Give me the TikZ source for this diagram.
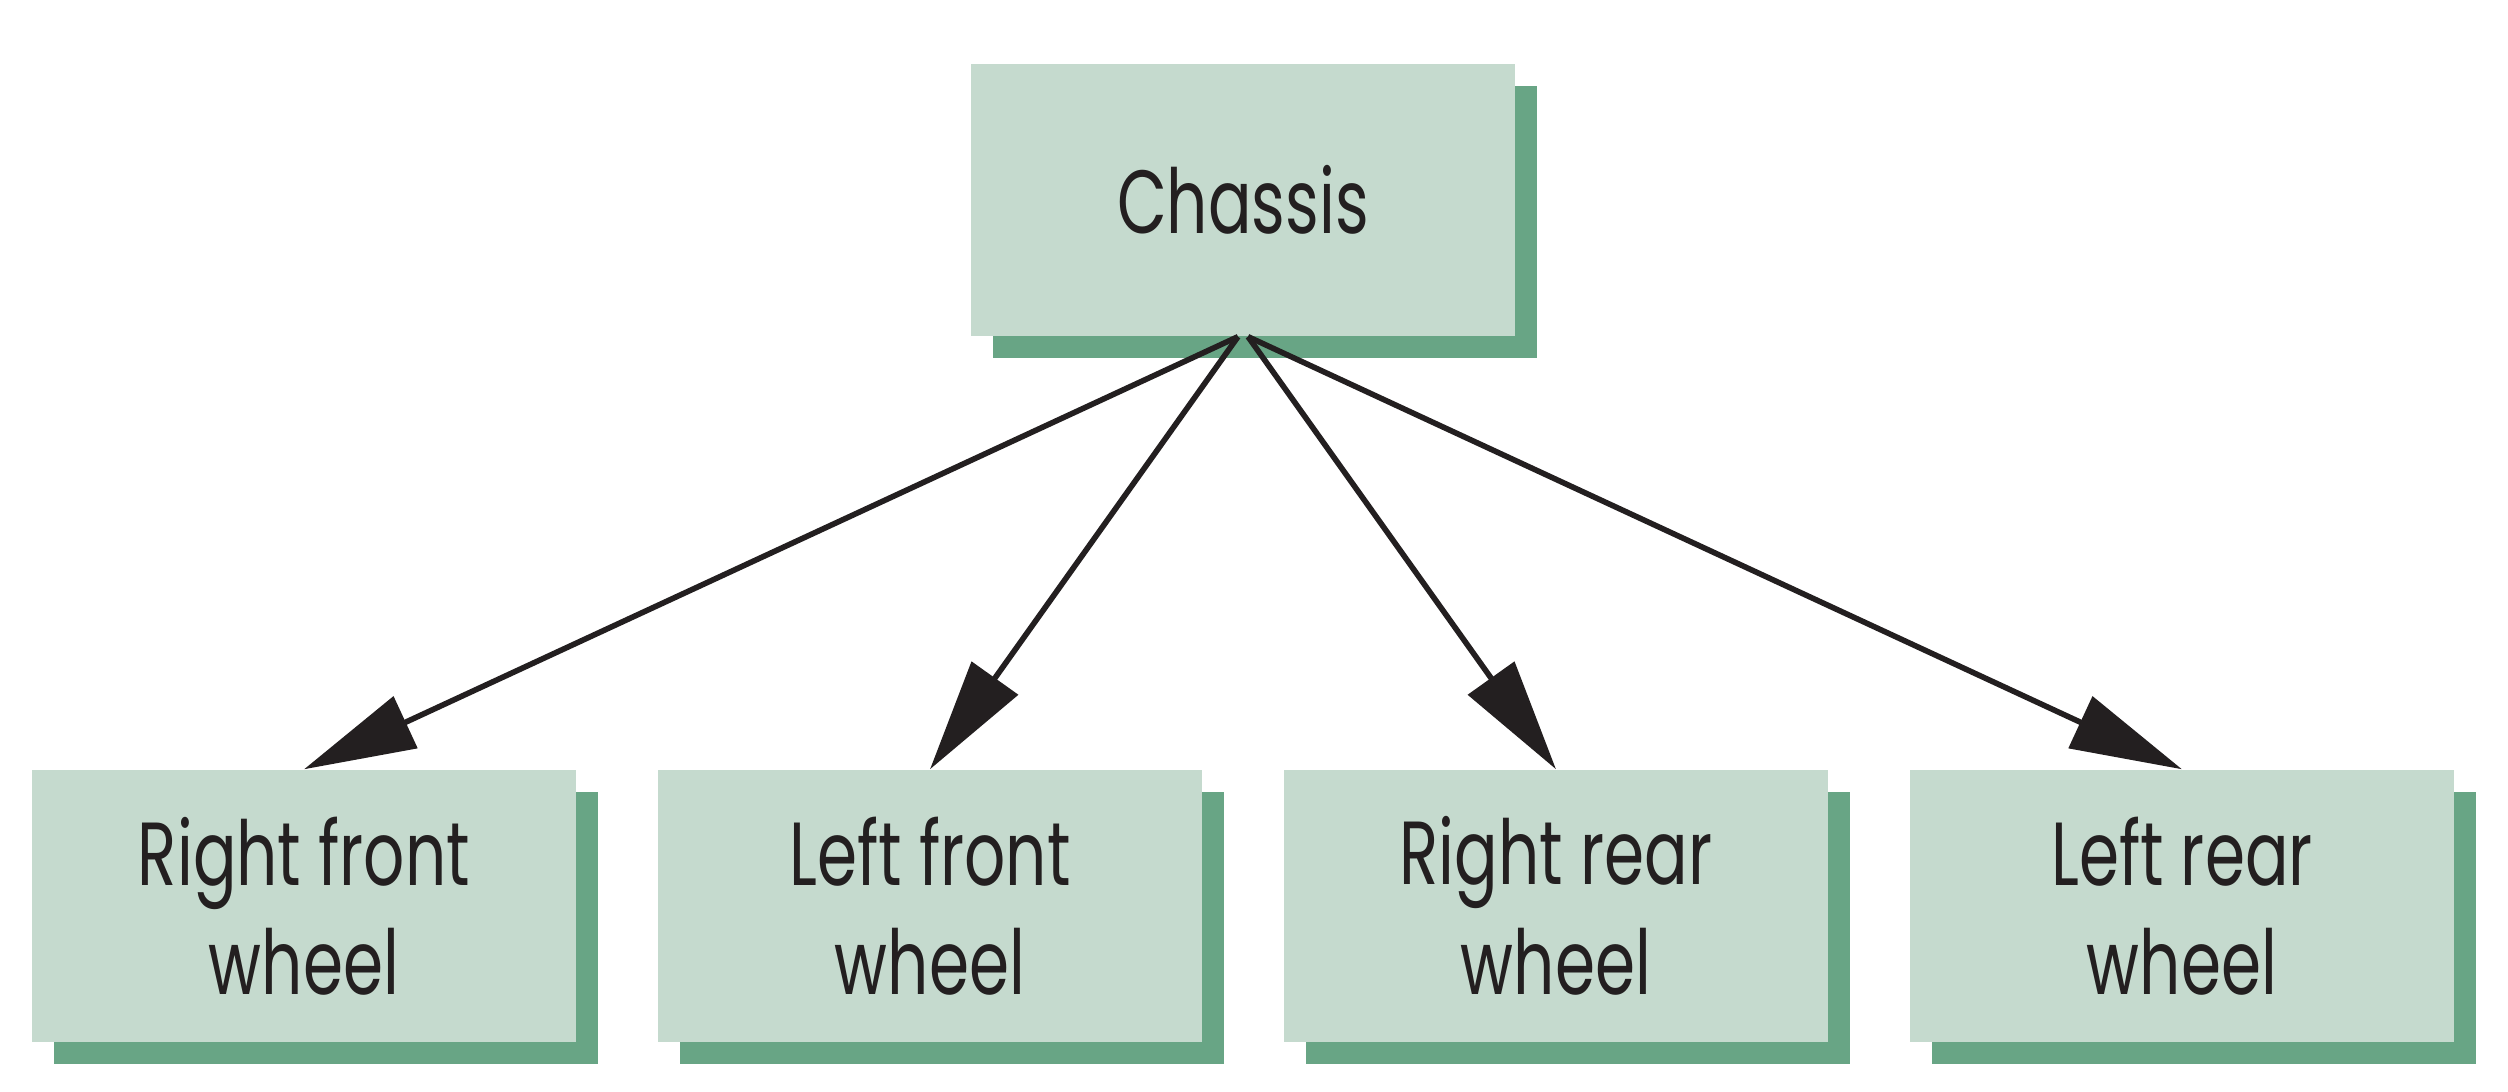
\documentclass[tikz,border=0pt]{standalone}
\usepackage{fontspec}
\setmainfont{Poppins}[FakeStretch=0.72]
\usetikzlibrary{arrows.meta,shadows}
\definecolor{boxfill}{HTML}{C5DACE}
\definecolor{shadowc}{HTML}{68A585}
\definecolor{ink}{HTML}{231F20}
\begin{document}
\begin{tikzpicture}[
  box/.style={fill=boxfill, draw=none, minimum width=5.44cm, minimum height=2.72cm,
    inner sep=0pt, align=center, text=ink, font=\fontsize{25.5}{31.2}\selectfont,
    general shadow={fill=shadowc, shadow xshift=0.22cm, shadow yshift=-0.22cm}},
  arr/.style={draw=ink, line width=1.6pt, -{Triangle[length=1.12cm,width=0.56cm]}}
]
\useasboundingbox (0,0) rectangle (25.08,-10.92);
\node[box] (ch) at (12.43,-2.00) {Chassis};
\node[box] (rf) at (3.04,-9.06) {Right front\\wheel};
\node[box] (lf) at (9.30,-9.06) {Left front\\wheel};
\node[box] (rr) at (15.56,-9.06) {Right rear\\wheel};
\node[box] (lr) at (21.82,-9.06) {Left rear\\wheel};
\draw[arr] ([xshift=-0.05cm]ch.south) -- (rf.north);
\draw[arr] ([xshift=-0.05cm]ch.south) -- (lf.north);
\draw[arr] ([xshift=0.05cm]ch.south) -- (rr.north);
\draw[arr] ([xshift=0.05cm]ch.south) -- (lr.north);
\end{tikzpicture}
\end{document}
